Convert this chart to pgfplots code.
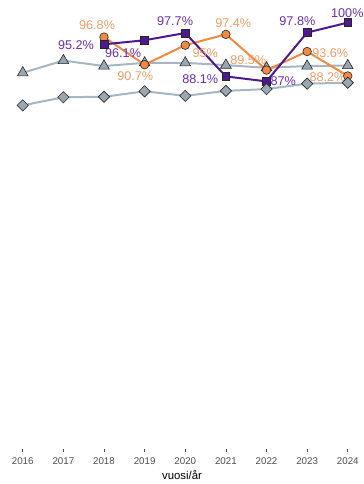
\documentclass[border=0pt]{standalone}
\usepackage{pgfplots}
\pgfplotsset{compat=1.18}
\usepackage{fontspec}
\setmainfont{Liberation Sans}
\definecolor{purp}{HTML}{4E1890}
\definecolor{purptxt}{HTML}{6A2DB0}
\definecolor{orng}{HTML}{F08A43}
\definecolor{orngtxt}{HTML}{F39C66}
\definecolor{gline}{HTML}{A6B6C2}
\definecolor{gfill}{HTML}{98A7B2}
\definecolor{tickgray}{HTML}{4D4D4D}
\begin{document}
\begin{tikzpicture}
\useasboundingbox (0,-35bp) rectangle (364bp,449bp);
\begin{axis}[
  at={(0,0)}, anchor=south west,
  scale only axis, width=364bp, height=449bp,
  xmin=2015.44, xmax=2024.40, ymin=5.7, ymax=105,
  axis x line=bottom, axis y line=none,
  axis line style={draw=none},
  xtick={2016,2017,2018,2019,2020,2021,2022,2023,2024},
  xtick align=outside,
  major tick length=3bp,
  tick style={color=tickgray, line width=0.6bp},
  /pgf/number format/1000 sep={},
  /pgf/number format/assume math mode=true,
  xticklabel style={font=\fontsize{9.8}{11}\selectfont, text=tickgray, yshift=-2bp},
  xlabel={vuosi/år},
  xlabel style={font=\fontsize{11.4}{13}\selectfont, text=black, yshift=-1.5bp, inner sep=1bp},
  clip=false,
]
% gray triangle series
\addplot[gline, line width=2bp, mark=triangle*, mark size=6.2bp,
  mark options={fill=gfill, draw=black!85, line width=0.6bp}] coordinates {
 (2016,88.9) (2017,91.6) (2018,90.4) (2019,91.1) (2020,91.1)
 (2021,90.6) (2022,90.0) (2023,90.4) (2024,90.5)};
% orange series
\addplot[orng, line width=2bp, mark=*, mark size=4.3bp,
  mark options={fill=orng, draw=black!85, line width=0.6bp}] coordinates {
 (2018,96.8) (2019,90.7) (2020,95.0) (2021,97.4) (2022,89.5) (2023,93.6) (2024,88.2)};
% purple series
\addplot[purp, line width=2bp, mark=square*, mark size=3.9bp,
  mark options={fill=purp, draw=black!85, line width=0.6bp}] coordinates {
 (2018,95.2) (2019,96.1) (2020,97.7) (2021,88.1) (2022,87.0) (2023,97.8) (2024,100)};
% gray diamond series
\addplot[gline, line width=2bp, mark=square*, mark size=4bp,
  mark options={fill=gfill, draw=black!85, line width=0.6bp, rotate=45}] coordinates {
 (2016,81.7) (2017,83.5) (2018,83.6) (2019,84.8) (2020,83.8)
 (2021,84.9) (2022,85.3) (2023,86.5) (2024,86.7)};
% labels
\begin{scope}[every node/.style={font=\fontsize{12.7}{14}\selectfont, inner sep=0pt}]
\node[text=purptxt] at (axis cs:2017.31,94.91) {95.2\%};
\node[text=purptxt] at (axis cs:2018.47,93.30) {96.1\%};
\node[text=purptxt] at (axis cs:2019.75,100.22) {97.7\%};
\node[text=purptxt] at (axis cs:2020.37,87.54) {88.1\%};
\node[text=purptxt] at (axis cs:2022.41,86.95) {87\%};
\node[text=purptxt] at (axis cs:2022.76,100.22) {97.8\%};
\node[text=purptxt] at (axis cs:2023.99,102.08) {100\%};
\node[text=orngtxt] at (axis cs:2017.83,99.49) {96.8\%};
\node[text=orngtxt] at (axis cs:2018.77,88.05) {90.7\%};
\node[text=orngtxt] at (axis cs:2020.49,93.23) {95\%};
\node[text=orngtxt] at (axis cs:2021.18,99.87) {97.4\%};
\node[text=orngtxt] at (axis cs:2021.55,91.75) {89.5\%};
\node[text=orngtxt] at (axis cs:2023.57,93.23) {93.6\%};
\node[text=orngtxt] at (axis cs:2023.50,87.92) {88.2\%};
\end{scope}
\end{axis}
\end{tikzpicture}
\end{document}
